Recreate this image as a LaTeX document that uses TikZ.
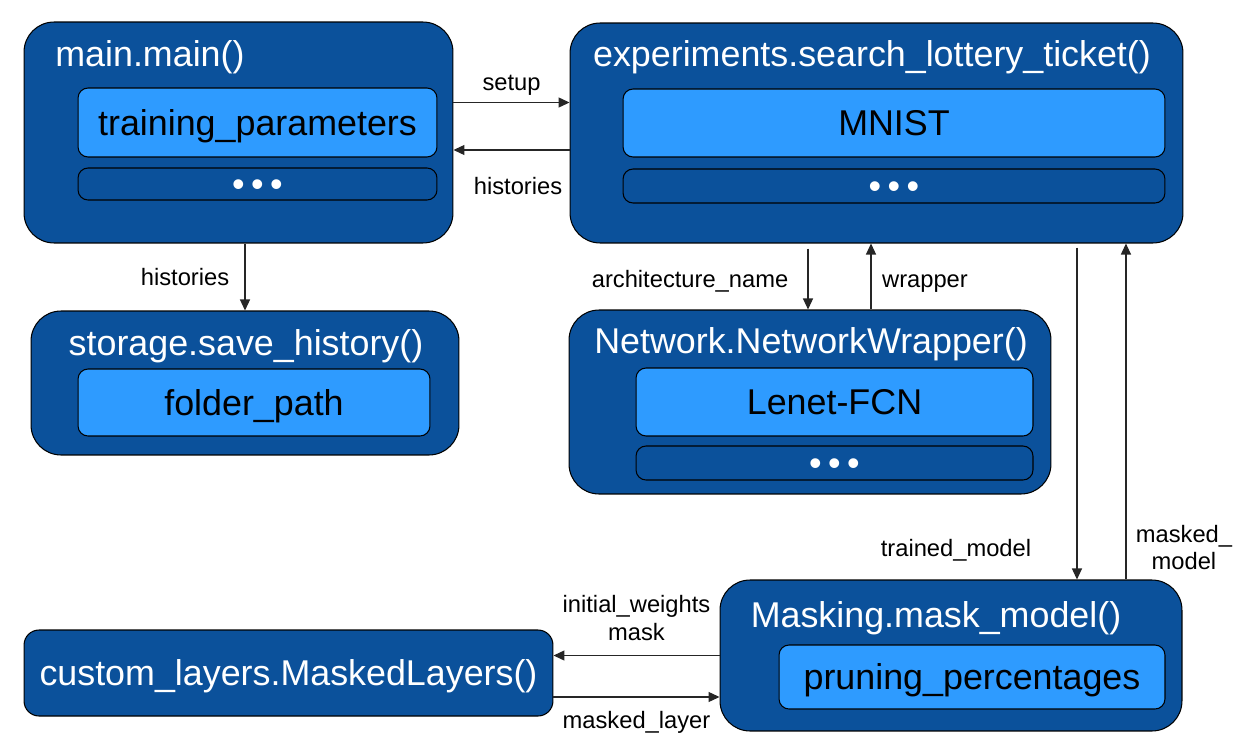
\documentclass[tikz,border=0pt]{standalone}
\usepackage{fontspec}
\setmainfont{Liberation Sans}
\usepackage{tikz}
\usetikzlibrary{positioning,arrows.meta,calc}

\definecolor{darkblue}{HTML}{0B519B}
\definecolor{lightblue}{HTML}{2E9BFF}
\newcommand\threedots{\textbullet\hspace{0.18em}\textbullet\hspace{0.18em}\textbullet}

\begin{document}
\begin{tikzpicture}[x=0.02cm,y=-0.02cm]

  \tikzset{
    func/.style={draw=black,line width=0.6pt,fill=darkblue,rounded corners=6mm,inner sep=0pt},
    param/.style={draw=black,line width=0.6pt,fill=lightblue,rounded corners=2mm,inner sep=0pt,
      text height=14.7pt,text depth=0pt,font=\fontsize{20.4}{24}\selectfont},
    more/.style={draw=black,line width=0.6pt,fill=darkblue,rounded corners=2mm,inner sep=0pt,
      text height=14.7pt,text depth=0pt,text=white,font=\fontsize{20.4}{24}\selectfont},
    title/.style={text=white,inner sep=0pt,font=\fontsize{20.4}{24}\selectfont},
    twolbl/.style={inner sep=0pt,font=\fontsize{13.5}{15.4}\selectfont,align=center},
    lbl/.style={twolbl,text height=9.7pt,text depth=0pt},
    flow/.style={draw=black!85,line width=0.7pt,-{Triangle[length=0.22cm,width=0.2cm]}},
  }

  \useasboundingbox (0,0) rectangle (1250,750);

  % FUNCTIONS

  \node[func,minimum width=8.58cm,minimum height=4.42cm] (mainbox) at (238.5,132.5) {};
  \node[func,minimum width=12.26cm,minimum height=4.4cm] (expbox) at (876.5,133) {};
  \node[func,minimum width=8.56cm,minimum height=2.88cm] (storebox) at (245,383) {};
  \node[func,minimum width=9.64cm,minimum height=3.68cm] (netbox) at (810,402) {};
  \node[func,minimum width=9.24cm,minimum height=3.02cm] (maskbox) at (951,655.5) {};
  \node[func,rounded corners=3mm,minimum width=10.58cm,minimum height=1.72cm,
    text height=14.7pt,text depth=0pt,
    text=white,font=\fontsize{20.4}{24}\selectfont] (layerbox) at (288.5,673) {custom\_layers.MaskedLayers()};

  \node[title,anchor=west] (maintitle) at (55,57) {main.main()};
  \node[title] (exptitle) at (872,57) {experiments.search\_lottery\_ticket()};
  \node[title] (storetitle) at (246,346) {storage.save\_history()};
  \node[title] (nettitle) at (811,344) {Network.NetworkWrapper()};
  \node[title] (masktitle) at (936,618) {Masking.mask\_model()};

  % PARAMETERS

  \node[param,minimum width=7.18cm,minimum height=1.38cm] (trainpar) at (257.5,122.5) {training\_parameters};
  \node[more,minimum width=7.18cm,minimum height=0.64cm] (mainmore) at (257.5,184) {\threedots};
  \node[param,minimum width=10.84cm,minimum height=1.36cm] (mnist) at (894,123) {MNIST};
  \node[more,minimum width=10.84cm,minimum height=0.68cm] (expmore) at (894,186) {\threedots};
  \node[param,minimum width=7.04cm,minimum height=1.34cm] (folder) at (254,402.5) {folder\_path};
  \node[param,minimum width=7.94cm,minimum height=1.36cm] (lenet) at (834.5,402) {Lenet-FCN};
  \node[more,minimum width=7.94cm,minimum height=0.68cm] (netmore) at (834.5,463) {\threedots};
  \node[param,minimum width=7.72cm,minimum height=1.28cm] (pruning) at (972,677) {pruning\_percentages};

  % CALLS

  \draw[flow] ([yshift=0.6cm]mainbox.east) -- node[lbl,yshift=0.42cm] (setuplbl) {setup}
    ([yshift=0.6cm]mainbox.east -| expbox.west);
  \draw[flow] ([yshift=-0.35cm]mainbox.east -| expbox.west) -- node[lbl,yshift=-0.72cm,xshift=0.13cm] (histlbl) {histories}
    ([yshift=-0.35cm]mainbox.east);
  \draw[flow] ([xshift=0.13cm]mainbox.south) -- node[lbl,xshift=-1.2cm] (savelbl) {histories}
    ([xshift=0.13cm]mainbox.south |- storebox.north);

  \draw[flow,shorten <=0.1cm] ([xshift=-1.37cm]expbox.south) -- node[lbl,xshift=-2.36cm,yshift=-0.05cm] (archlbl) {architecture\_name}
    ([xshift=-1.37cm]expbox.south |- netbox.north);
  \draw[flow] ([xshift=-0.11cm]expbox.south |- netbox.north) -- node[lbl,xshift=1.08cm,yshift=-0.05cm] (wraplbl) {wrapper}
    ([xshift=-0.11cm]expbox.south);

  \draw[flow,shorten <=0.08cm] ([xshift=4.01cm]expbox.south) -- node[lbl,pos=0.905,xshift=-2.42cm] (trainlbl) {trained\_model}
    ([xshift=4.01cm]expbox.south |- maskbox.north);
  \draw[flow] ([xshift=4.99cm]expbox.south |- maskbox.north) -- node[twolbl,pos=0.095,xshift=1.16cm] (mmlbl) {masked\_\\model}
    ([xshift=4.99cm]expbox.south);

  \draw[flow] (maskbox.west) -- node[twolbl,yshift=0.75cm] (initlbl) {initial\_weights\\mask}
    (maskbox.west -| layerbox.east);
  \draw[flow] ([yshift=-0.83cm]maskbox.west -| layerbox.east) -- node[lbl,yshift=-0.46cm] (layerlbl) {masked\_layer}
    ([yshift=-0.83cm]maskbox.west);

\end{tikzpicture}
\end{document}
